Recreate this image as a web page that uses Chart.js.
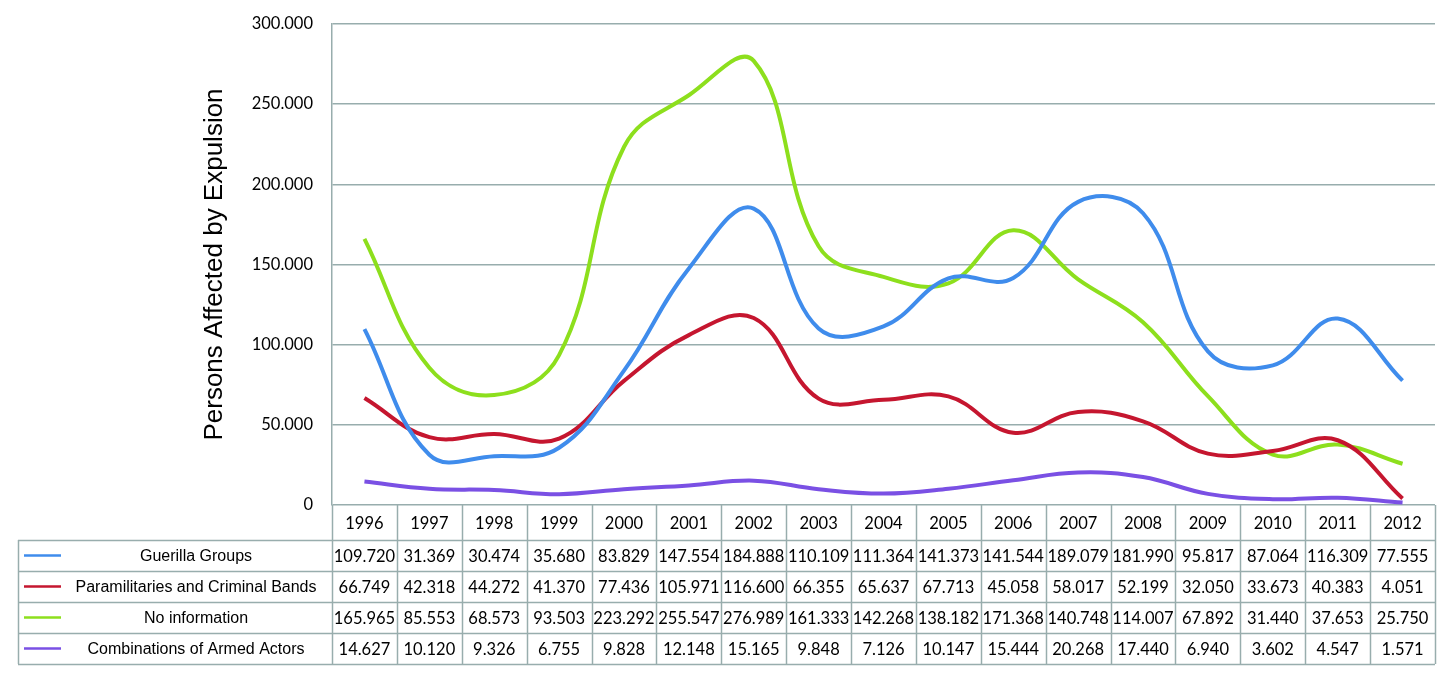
<!DOCTYPE html>
<html>
<head>
<meta charset="utf-8">
<script src="https://cdn.jsdelivr.net/npm/chart.js@4"></script>
<style>
html,body{margin:0;padding:0;background:#fff;}
#wrap{width:1456px;height:685px;}
</style>
</head>
<body>
<div id="wrap"><canvas id="c" width="1456" height="685"></canvas></div>
<script>
const years = ['1996','1997','1998','1999','2000','2001','2002','2003','2004','2005','2006','2007','2008','2009','2010','2011','2012'];
const seriesNames = ['Guerilla Groups','Paramilitaries and Criminal Bands','No information','Combinations of Armed Actors'];
const guerilla = [109720,31369,30474,35680,83829,147554,184888,110109,111364,141373,141544,189079,181990,95817,87064,116309,77555];
const paramilitaries = [66749,42318,44272,41370,77436,105971,116600,66355,65637,67713,45058,58017,52199,32050,33673,40383,4051];
const noInformation = [165965,85553,68573,93503,223292,255547,276989,161333,142268,138182,171368,140748,114007,67892,31440,37653,25750];
const combinations = [14627,10120,9326,6755,9828,12148,15165,9848,7126,10147,15444,20268,17440,6940,3602,4547,1571];
const yTicks = [0,50000,100000,150000,200000,250000,300000];
const colors = ['#3f8cec','#c5162f','#8ddf1d','#7a50e4'];

function fmt(v){
  if (v === 0) return '0';
  const s = String(v);
  return s.length > 3 ? s.slice(0, s.length-3) + '.' + s.slice(-3) : s;
}

const GRID = '#98adad';
const NUMFONT = '16.5px Lato, "Open Sans", sans-serif';

const tablePlugin = {
  id: 'dataTable',
  afterDraw(chart){
    const ctx = chart.ctx;
    const xs = chart.scales.x;
    const ys = chart.scales.y;
    const top = ys.getPixelForValue(0);
    const headerH = 35, rowH = 31;
    const leftEdge = 18;
    const n = years.length;
    const colW = (xs.right - xs.left) / n;
    const right = xs.right;
    const rowsData = [guerilla, paramilitaries, noInformation, combinations];
    const bottom = top + headerH + rowH * rowsData.length;
    ctx.save();
    ctx.strokeStyle = GRID;
    ctx.lineWidth = 1.5;
    for (let i = 0; i <= n; i++) {
      const x = Math.round(xs.getPixelForValue(i) - colW/2) + 0.5;
      ctx.beginPath(); ctx.moveTo(x, top); ctx.lineTo(x, bottom); ctx.stroke();
    }
    for (let r = 0; r <= rowsData.length; r++) {
      const y = Math.round(top + headerH + r*rowH) + 0.5;
      ctx.beginPath(); ctx.moveTo(leftEdge, y); ctx.lineTo(right, y); ctx.stroke();
    }
    ctx.beginPath(); ctx.moveTo(leftEdge+0.5, top+headerH); ctx.lineTo(leftEdge+0.5, bottom); ctx.stroke();
    ctx.fillStyle = '#000';
    ctx.textAlign = 'center';
    ctx.textBaseline = 'middle';
    ctx.font = NUMFONT;
    years.forEach((yr, i) => {
      ctx.fillText(yr, xs.getPixelForValue(i), top + headerH/2 + 1);
    });
    rowsData.forEach((arr, r) => {
      const cy = top + headerH + r*rowH + rowH/2 + 1;
      ctx.font = NUMFONT;
      ctx.fillStyle = '#000';
      arr.forEach((v, i) => {
        ctx.fillText(fmt(v), xs.getPixelForValue(i), cy);
      });
      ctx.strokeStyle = chart.data.datasets[r].borderColor;
      ctx.lineWidth = 2.5;
      ctx.beginPath(); ctx.moveTo(24, cy-1); ctx.lineTo(61, cy-1); ctx.stroke();
      ctx.font = '16px "Liberation Sans", Arial, sans-serif';
      ctx.fillText(seriesNames[r], 196, cy);
    });
    ctx.restore();
  }
};

const seriesData = [guerilla, paramilitaries, noInformation, combinations];

new Chart(document.getElementById('c'), {
  type: 'line',
  data: {
    labels: years,
    datasets: seriesNames.map((name, i) => ({
      label: name,
      data: seriesData[i],
      borderColor: colors[i],
      backgroundColor: colors[i],
      borderWidth: 4,
      pointRadius: 0,
      pointHoverRadius: 0,
      tension: 0.4,
      fill: false
    }))
  },
  options: {
    responsive: false,
    animation: false,
    events: [],
    layout: { padding: { top: 24, right: 21, bottom: 180, left: 0 } },
    plugins: { legend: { display: false }, tooltip: { enabled: false } },
    scales: {
      x: {
        type: 'category',
        offset: true,
        display: false,
        grid: { offset: true }
      },
      y: {
        min: 0, max: 300000,
        afterBuildTicks(scale){ scale.ticks = yTicks.map(v => ({value: v})); },
        afterFit(scale){ scale.width = 332; scale.paddingTop = 0; scale.paddingBottom = 0; },
        ticks: {
          padding: 19,
          color: '#000',
          font: { family: 'Lato, "Open Sans", sans-serif', size: 16.5 },
          callback: (v) => fmt(v)
        },
        grid: { color: GRID, lineWidth: 1.5, drawTicks: false },
        border: { display: true, color: GRID, width: 1.5 },
        title: {
          display: true,
          text: 'Persons Affected by Expulsion',
          color: '#000',
          font: { family: '"Liberation Sans", Arial, sans-serif', size: 26 },
          padding: { top: 199, bottom: 0 }
        }
      }
    }
  },
  plugins: [tablePlugin]
});
</script>
</body>
</html>
